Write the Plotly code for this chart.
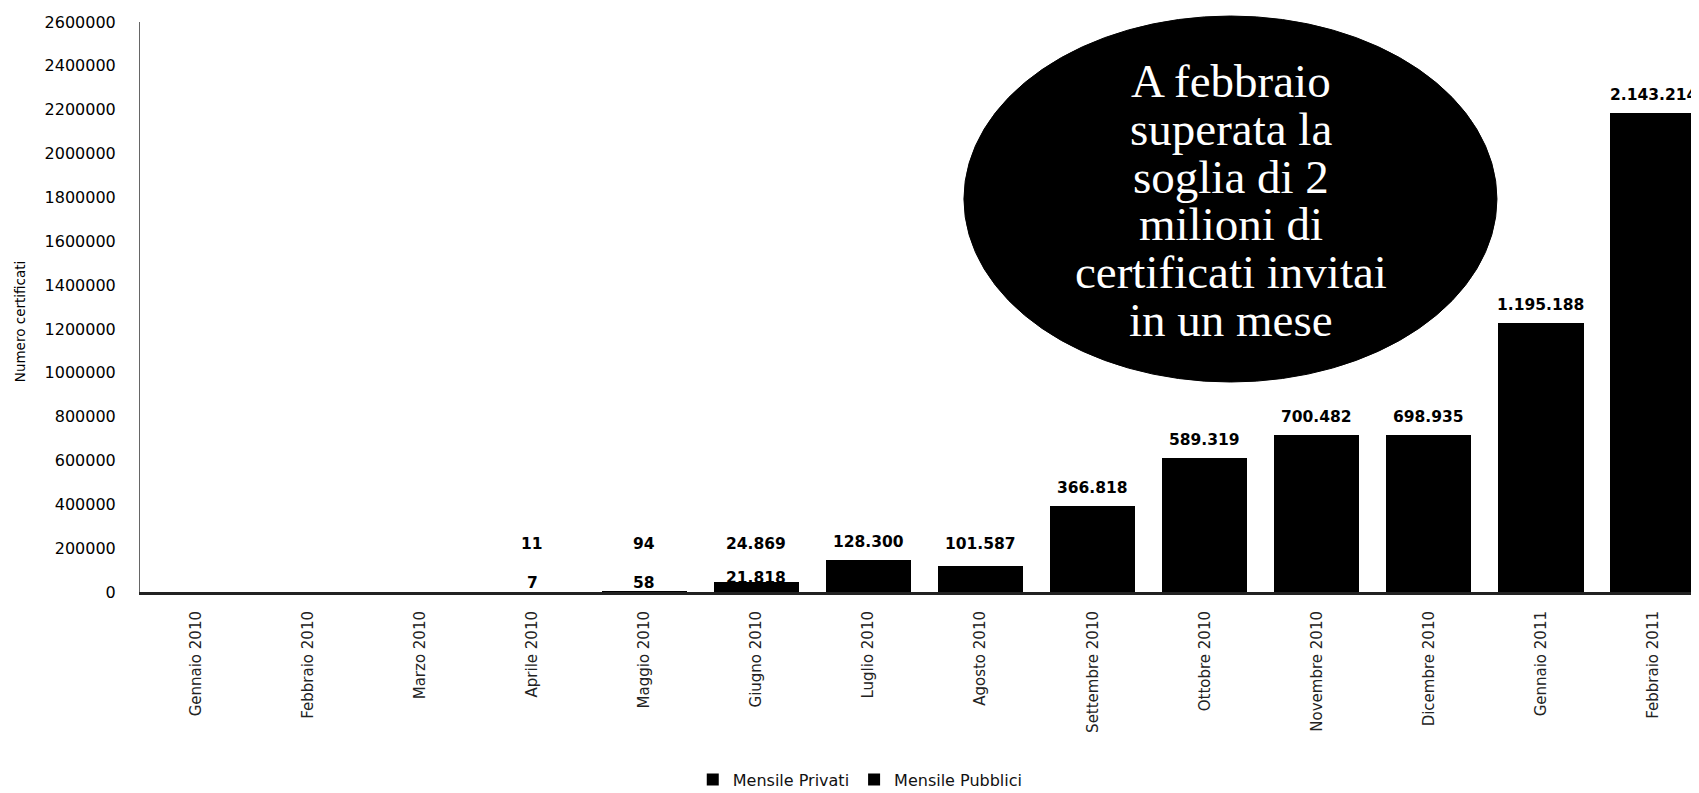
import plotly.graph_objects as go

# ---------------- data ----------------
months = ["Gennaio 2010", "Febbraio 2010", "Marzo 2010", "Aprile 2010", "Maggio 2010",
          "Giugno 2010", "Luglio 2010", "Agosto 2010", "Settembre 2010", "Ottobre 2010",
          "Novembre 2010", "Dicembre 2010", "Gennaio 2011", "Febbraio 2011"]
privati = [0, 0, 0, 7, 58, 21818, 16000, 17000, 24000, 24000, 16000, 18000, 30000, 41000]
pubblici = [0, 0, 0, 11, 94, 24869, 128300, 101587, 366818, 589319, 700482, 698935, 1195188, 2143214]
y_ticks = list(range(0, 2600001, 200000))
callout_lines = ["A febbraio", "superata la", "soglia di 2", "milioni di",
                 "certificati invitai", "in un mese"]


def it_fmt(v):
    return f"{v:,}".replace(",", ".")


fig = go.Figure()
fig.add_trace(go.Bar(x=months, y=privati, name="Mensile Privati",
                     marker=dict(color="#000000", line=dict(width=0)), width=0.76))
fig.add_trace(go.Bar(x=months, y=pubblici, name="Mensile Pubblici",
                     marker=dict(color="#000000", line=dict(width=0)), width=0.76))

annotations = []
label_font = dict(family="DejaVu Sans", size=15.5, color="#000000")
for m, pr, pu in zip(months, privati, pubblici):
    total = pr + pu
    if pu > 0:
        annotations.append(dict(x=m, y=max(total, 135000), xref="x", yref="y",
                                text=f"<b>{it_fmt(pu)}</b>", showarrow=False,
                                yanchor="bottom", yshift=7, font=label_font))
    if 0 < pr and pu < 50000:
        annotations.append(dict(x=m, y=pr, xref="x", yref="y",
                                text=f"<b>{it_fmt(pr)}</b>", showarrow=False,
                                yanchor="middle", yshift=9, font=label_font))

# y-axis title
annotations.append(dict(x=-0.077, y=0.475, xref="paper", yref="paper",
                        text="Numero certificati", textangle=-90, showarrow=False,
                        xanchor="center", yanchor="middle",
                        font=dict(family="DejaVu Sans", size=13.5, color="#000000")))

# callout text inside the ellipse
cx, cy, dy = 0.6998, 0.687, 0.0837
for i, line in enumerate(callout_lines):
    annotations.append(dict(x=cx, y=cy - (i - 2.5) * dy, xref="paper", yref="paper",
                            text=line, showarrow=False, xanchor="center", yanchor="middle",
                            font=dict(family="Liberation Serif", size=47, color="#ffffff")))

fig.update_layout(
    width=1691, height=785,
    margin=dict(l=132, r=0, t=14, b=201, autoexpand=False),
    paper_bgcolor="#ffffff", plot_bgcolor="#ffffff",
    barmode="stack", bargap=0.24,
    showlegend=True,
    legend=dict(orientation="h", x=0.462, y=-0.329, xanchor="center", yanchor="middle",
                font=dict(family="DejaVu Sans", size=16, color="#111111"),
                traceorder="normal", itemwidth=30),
    shapes=[dict(type="circle", xref="paper", yref="paper",
                 x0=0.5285, x1=0.8704, y0=0.3684, y1=1.0105,
                 fillcolor="#000000", line=dict(color="#000000", width=1), layer="above")],
    annotations=annotations,
    font=dict(family="DejaVu Sans", color="#000000"),
)
fig.update_xaxes(range=[-0.5, 13.41], tickangle=-90, showgrid=False,
                 showline=True, linecolor="#222222", linewidth=3,
                 ticks="", ticklabelstandoff=10,
                 tickfont=dict(family="DejaVu Sans", size=15, color="#222222"))
fig.update_yaxes(range=[0, 2600000], tickvals=y_ticks, ticktext=[str(v) for v in y_ticks],
                 showgrid=False, zeroline=False, showline=True, linecolor="#666666",
                 linewidth=1, ticks="", ticklabelstandoff=20,
                 tickfont=dict(family="DejaVu Sans", size=16, color="#000000"))

fig.write_html("out.html")
